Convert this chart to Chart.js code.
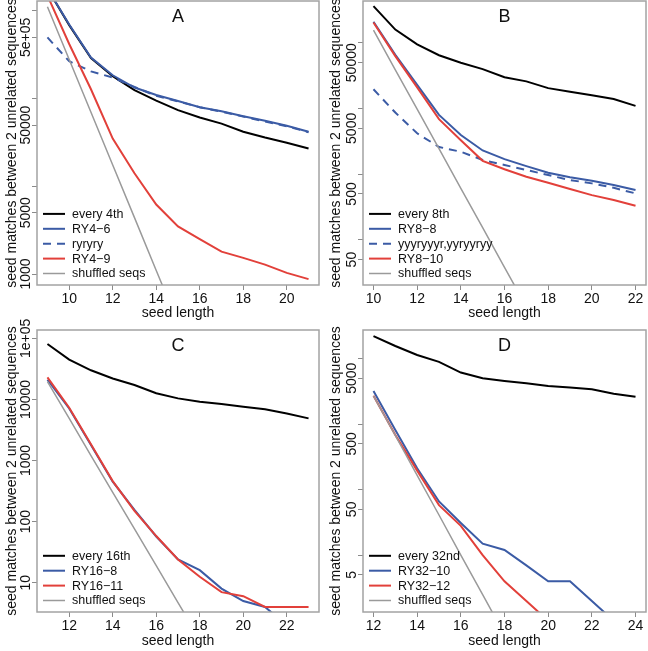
<!DOCTYPE html>
<html>
<head>
<meta charset="utf-8">
<script src="https://cdn.jsdelivr.net/npm/chart.js@4.4.1/dist/chart.umd.min.js"></script>
<style>
  body { margin: 0; background: #fff; }
  #wrap { position: relative; width: 648px; height: 651px; }
  canvas { position: absolute; }
</style>
</head>
<body>
<div id="wrap">
  <canvas id="chartA" width="324" height="325" style="left:0;top:0"></canvas>
  <canvas id="chartB" width="324" height="325" style="left:324px;top:0"></canvas>
  <canvas id="chartC" width="324" height="336" style="left:0;top:315px"></canvas>
  <canvas id="chartD" width="324" height="336" style="left:324px;top:315px"></canvas>
</div>
<script>
// ---- panel A ----
const lenA = [9, 10, 11, 12, 13, 14, 15, 16, 17, 18, 19, 20, 21];
const every4th = [1.8e6, 6.9e5, 2.9e5, 1.8e5, 1.25e5, 9.5e4, 7.4e4, 6.1e4, 5.2e4, 4.2e4, 3.6e4, 3.15e4, 2.7e4];
const ry4_6 = [1.8e6, 7.0e5, 2.95e5, 1.85e5, 1.34e5, 1.1e5, 9.4e4, 8.0e4, 7.2e4, 6.3e4, 5.6e4, 4.9e4, 4.2e4];
const ryryry = [5.0e5, 2.67e5, 2.05e5, 1.74e5, 1.36e5, 1.08e5, 9.3e4, 8.0e4, 7.1e4, 6.25e4, 5.5e4, 4.85e4, 4.15e4];
const ry4_9 = [1.5e6, 4.2e5, 1.28e5, 3.5e4, 1.41e4, 6.2e3, 3.5e3, 2.5e3, 1.8e3, 1.53e3, 1.28e3, 1.03e3, 875];
const shufA = [1.12e6, 2.8e5, 7.0e4, 1.75e4, 4.4e3, 1.1e3, 275];
const xTicksA = [10, 12, 14, 16, 18, 20];
const yTicksA = [1000, 5000, 1e4, 5e4, 1e5, 5e5, 1e6];
const yLabelsA = ["1000", "5000", "", "50000", "", "5e+05", ""];

// ---- panel B ----
const lenB = [10, 11, 12, 13, 14, 15, 16, 17, 18, 19, 20, 21, 22];
const every8th = [3.65e5, 1.6e5, 9.5e4, 6.5e4, 5.0e4, 4.0e4, 3.0e4, 2.6e4, 2.05e4, 1.8e4, 1.6e4, 1.4e4, 1.1e4];
const ry8_8 = [2.1e5, 6.6e4, 2.3e4, 8.0e3, 3.95e3, 2.3e3, 1.7e3, 1.33e3, 1.05e3, 900, 795, 685, 575];
const yyyr = [1.97e4, 8.7e3, 4.2e3, 2.6e3, 2.2e3, 1.65e3, 1.38e3, 1.16e3, 970, 815, 725, 620, 510];
const ry8_10 = [2.05e5, 6.3e4, 2.1e4, 6.9e3, 3.3e3, 1.6e3, 1.19e3, 915, 740, 595, 480, 405, 330];
const shufB = [1.57e5, 3.9e4, 9.8e3, 2.45e3, 610, 153, 38, 9.6];
const xTicksB = [10, 12, 14, 16, 18, 20, 22];
const yTicksB = [50, 100, 500, 1000, 5000, 1e4, 5e4, 1e5];
const yLabelsB = ["50", "", "500", "", "5000", "", "50000", ""];

// ---- panel C ----
const lenC = [11, 12, 13, 14, 15, 16, 17, 18, 19, 20, 21, 22, 23];
const every16th = [8.1e4, 4.5e4, 3.0e4, 2.2e4, 1.72e4, 1.26e4, 1.04e4, 9.2e3, 8.4e3, 7.6e3, 6.9e3, 5.9e3, 4.9e3];
const ry16_8 = [2.1e4, 7.1e3, 1.8e3, 450, 155, 57, 24, 16, 8, 5, 4, 2, 1];
const ry16_11 = [2.3e4, 7.3e3, 1.85e3, 460, 150, 58, 24, 12.5, 7, 6, 4, 4, 4];
const shufC = [1.95e4, 4.9e3, 1.2e3, 300, 76, 19, 4.7, 1.2];
const xTicksC = [12, 14, 16, 18, 20, 22];
const yTicksC = [10, 100, 1000, 1e4, 1e5];
const yLabelsC = ["10", "100", "1000", "10000", "1e+05"];

// ---- panel D ----
const lenD = [12, 13, 14, 15, 16, 17, 18, 19, 20, 21, 22, 23, 24];
const every32nd = [2.2e4, 1.55e4, 1.13e4, 8.9e3, 6.1e3, 5.0e3, 4.55e3, 4.2e3, 3.8e3, 3.6e3, 3.4e3, 2.9e3, 2.6e3];
const ry32_10 = [3.2e3, 810, 212, 66, 31, 15, 12, 7, 4, 4, 2, 1, 1];
const ry32_12 = [2.7e3, 680, 195, 58, 28, 10, 4, 2, 1];
const shufD = [2.7e3, 670, 165, 41, 10, 2.5, 0.62];
const xTicksD = [12, 14, 16, 18, 20, 22, 24];
const yTicksD = [5, 10, 50, 100, 500, 1000, 5000, 1e4];
const yLabelsD = ["5", "", "50", "", "500", "", "5000", ""];

const BLACK = "#000000", BLUE = "#3b5ba5", RED = "#e2403a", GREY = "#9a9a9a";
const FONT = '"Liberation Sans", Arial, sans-serif';
const YTITLE = "seed matches between 2 unrelated sequences";

// box, rotated y labels, panel letter, legend
const panelPlugin = {
  id: "panel",
  afterDraw(chart, args, opts) {
    const { ctx, chartArea: a } = chart;
    const y = chart.scales.y;
    ctx.save();
    ctx.strokeStyle = "#a3a3a3";
    ctx.lineWidth = 1.5;
    ctx.strokeRect(a.left, a.top, a.right - a.left, a.bottom - a.top);

    ctx.fillStyle = "#111";
    ctx.font = "14px " + FONT;
    ctx.textAlign = "center";
    ctx.textBaseline = "middle";
    opts.ticks.forEach((v, i) => {
      if (!opts.labels[i]) return;
      ctx.save();
      ctx.translate(a.left - 10.5, y.getPixelForValue(v));
      ctx.rotate(-Math.PI / 2);
      ctx.fillText(opts.labels[i], 0, 0);
      ctx.restore();
    });

    ctx.font = "18px " + FONT;
    ctx.fillText(opts.letter, (a.left + a.right) / 2, a.top + 16.5);

    // legend, bottom left inside the box
    const ds = chart.data.datasets;
    ctx.font = "12.5px " + FONT;
    ctx.textAlign = "left";
    ds.forEach((d, i) => {
      const ly = a.bottom - 11.5 - (ds.length - 1 - i) * 14.9;
      ctx.beginPath();
      ctx.strokeStyle = d.borderColor;
      ctx.lineWidth = d.borderWidth;
      ctx.setLineDash(d.borderDash || []);
      ctx.moveTo(a.left + 6, ly);
      ctx.lineTo(a.left + 28, ly);
      ctx.stroke();
      ctx.setLineDash([]);
      ctx.fillStyle = "#111";
      ctx.fillText(d.label, a.left + 35, ly + 0.5);
    });
    ctx.restore();
  }
};

function makeChart(id, p) {
  const datasets = p.series.map((s, i) => ({
    label: s.label,
    data: p.xs.map((x, k) => ({ x: x, y: s.values[k] })),
    borderColor: s.color,
    borderWidth: s.width || 2,
    borderDash: s.dash || [],
    pointRadius: 0,
    tension: 0,
    fill: false,
    order: p.series.length - i
  }));
  return new Chart(document.getElementById(id), {
    type: "line",
    data: { datasets },
    options: {
      responsive: false,
      animation: false,
      layout: { padding: p.pad },
      plugins: {
        legend: { display: false },
        tooltip: { enabled: false },
        panel: { letter: p.letter, ticks: p.yTicks, labels: p.yLabels }
      },
      scales: {
        x: {
          type: "linear",
          bounds: "data",
          min: p.xMin, max: p.xMax,
          afterBuildTicks: s => { s.ticks = p.xTicks.map(v => ({ value: v })); },
          afterFit: s => { s.height = p.xHeight; },
          border: { display: false },
          grid: { drawOnChartArea: false, drawTicks: true, tickLength: 5, tickColor: "#8a8a8a" },
          ticks: { color: "#111", font: { family: FONT, size: 14 }, padding: 1, maxRotation: 0, autoSkip: false },
          title: { display: true, text: "seed length", color: "#111", font: { family: FONT, size: 14 }, padding: { top: 4, bottom: p.titlePad } }
        },
        y: {
          type: "logarithmic",
          bounds: "data",
          min: p.yMin, max: p.yMax,
          afterBuildTicks: s => { s.ticks = p.yTicks.map(v => ({ value: v })); },
          afterFit: s => { s.width = p.yWidth; },
          border: { display: false },
          grid: { drawOnChartArea: false, drawTicks: true, tickLength: 5, tickColor: "#8a8a8a" },
          ticks: { display: false },
          title: { display: true, text: YTITLE, color: "#111", font: { family: FONT, size: 14 }, padding: { top: 4, bottom: 4 } }
        }
      }
    },
    plugins: [panelPlugin]
  });
}

makeChart("chartA", {
  letter: "A", xs: lenA, xMin: 8.52, xMax: 21.48, yMin: 750, yMax: 1.3e6,
  xTicks: xTicksA, yTicks: yTicksA, yLabels: yLabelsA,
  pad: { left: 0, top: 1, right: 5, bottom: 0 }, yWidth: 37, xHeight: 40, titlePad: 3,
  series: [
    { label: "every 4th", values: every4th, color: BLACK },
    { label: "RY4\u22126", values: ry4_6, color: BLUE },
    { label: "ryryry", values: ryryry, color: BLUE, dash: [8, 6] },
    { label: "RY4\u22129", values: ry4_9, color: RED },
    { label: "shuffled seqs", values: shufA, color: GREY, width: 1.5 }
  ]
});

makeChart("chartB", {
  letter: "B", xs: lenB, xMin: 9.52, xMax: 22.48, yMin: 20.5, yMax: 4.36e5,
  xTicks: xTicksB, yTicks: yTicksB, yLabels: yLabelsB,
  pad: { left: 0, top: 1, right: 2, bottom: 0 }, yWidth: 39, xHeight: 40, titlePad: 3,
  series: [
    { label: "every 8th", values: every8th, color: BLACK },
    { label: "RY8\u22128", values: ry8_8, color: BLUE },
    { label: "yyyryyyr,yyryyryy", values: yyyr, color: BLUE, dash: [8, 6] },
    { label: "RY8\u221210", values: ry8_10, color: RED },
    { label: "shuffled seqs", values: shufB, color: GREY, width: 1.5 }
  ]
});

makeChart("chartC", {
  letter: "C", xs: lenC, xMin: 10.52, xMax: 23.48, yMin: 3.31, yMax: 1.37e5,
  xTicks: xTicksC, yTicks: yTicksC, yLabels: yLabelsC,
  pad: { left: 0, top: 15, right: 5, bottom: 0 }, yWidth: 37, xHeight: 39, titlePad: 1.5,
  series: [
    { label: "every 16th", values: every16th, color: BLACK },
    { label: "RY16\u22128", values: ry16_8, color: BLUE },
    { label: "RY16\u221211", values: ry16_11, color: RED },
    { label: "shuffled seqs", values: shufC, color: GREY, width: 1.5 }
  ]
});

makeChart("chartD", {
  letter: "D", xs: lenD, xMin: 11.52, xMax: 24.48, yMin: 1.36, yMax: 2.72e4,
  xTicks: xTicksD, yTicks: yTicksD, yLabels: yLabelsD,
  pad: { left: 0, top: 15, right: 2, bottom: 0 }, yWidth: 39, xHeight: 39, titlePad: 1.5,
  series: [
    { label: "every 32nd", values: every32nd, color: BLACK },
    { label: "RY32\u221210", values: ry32_10, color: BLUE },
    { label: "RY32\u221212", values: ry32_12, color: RED },
    { label: "shuffled seqs", values: shufD, color: GREY, width: 1.5 }
  ]
});
</script>
</body>
</html>
